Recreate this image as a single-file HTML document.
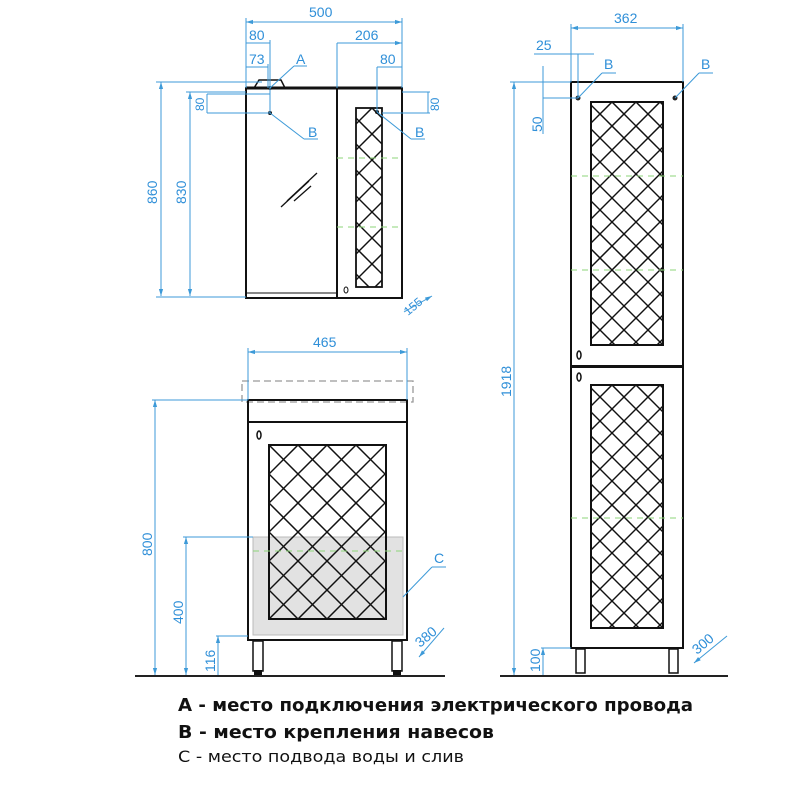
<!DOCTYPE html>
<html><head><meta charset="utf-8"><style>
html,body{margin:0;padding:0;background:#fff;width:800px;height:800px;overflow:hidden}
svg{display:block}
.d{stroke:#3d9ad8;stroke-width:1;fill:none}
.t{fill:#2f8fd8;font-family:"Liberation Sans","DejaVu Sans",sans-serif;font-size:14px}
.k{stroke:#111;stroke-width:2;fill:none}
.g{stroke:#8ed67a;stroke-width:1;stroke-dasharray:6,5}
.lg{font-family:"DejaVu Sans","Liberation Sans",sans-serif;fill:#111}
</style></head><body>
<svg id="s" width="800" height="800" viewBox="0 0 800 800" xmlns="http://www.w3.org/2000/svg">
<defs>
<marker id="a" viewBox="0 0 10 10" refX="10" refY="5" markerWidth="7" markerHeight="7" orient="auto-start-reverse"><path d="M0,2 L10,5 L0,8z" fill="#3d9ad8"/></marker>
<clipPath id="c1"><rect x="356" y="108" width="26" height="179"/></clipPath>
<clipPath id="c2"><rect x="269" y="445" width="117" height="174"/></clipPath>
<clipPath id="c3"><rect x="591" y="102" width="72" height="243"/></clipPath>
<clipPath id="c4"><rect x="591" y="385" width="72" height="243"/></clipPath>
</defs>

<!-- ===== Top mirror cabinet ===== -->
<path d="M254,88 L259,80 L281,80 L285,88" class="k" style="stroke-width:1.5"/>
<rect x="246" y="88" width="156" height="210" class="k"/>
<line x1="246" y1="88" x2="402" y2="88" stroke="#111" stroke-width="3"/>
<line x1="337" y1="88" x2="337" y2="298" class="k"/>
<line x1="246" y1="293" x2="337" y2="293" class="k" style="stroke-width:1"/>
<rect x="356" y="108" width="26" height="179" class="k" style="stroke-width:1.8"/>
<g id="l1" clip-path="url(#c1)" stroke="#111" stroke-width="1.5"></g>
<line x1="337" y1="158" x2="398" y2="158" class="g"/>
<line x1="337" y1="227" x2="398" y2="227" class="g"/>
<line x1="281" y1="207" x2="309" y2="181" stroke="#111" stroke-width="1.3"/>
<line x1="287" y1="201" x2="317" y2="173" stroke="#111" stroke-width="1.3"/>
<line x1="294" y1="201" x2="311" y2="186" stroke="#111" stroke-width="1.3"/>
<ellipse cx="346" cy="290" rx="2" ry="3" fill="none" stroke="#111"/>
<circle cx="270" cy="88" r="2" fill="#111"/><circle cx="270" cy="113" r="2" fill="#111"/><circle cx="377" cy="112" r="2" fill="#111"/>
<!-- dims -->
<line x1="246" y1="22" x2="402" y2="22" class="d" marker-start="url(#a)" marker-end="url(#a)"/>
<text x="309" y="17" class="t">500</text>
<line x1="246" y1="18" x2="246" y2="88" class="d"/><line x1="402" y1="18" x2="402" y2="88" class="d"/>
<line x1="246" y1="43" x2="270" y2="43" class="d"/><text x="249" y="40" class="t">80</text>
<line x1="270" y1="40" x2="270" y2="113" class="d"/>
<line x1="246" y1="67" x2="268" y2="67" class="d"/><text x="249" y="64" class="t">73</text>
<line x1="268" y1="64" x2="268" y2="88" class="d"/>
<line x1="337" y1="43" x2="402" y2="43" class="d" marker-end="url(#a)"/><line x1="337" y1="43" x2="337" y2="88" class="d"/>
<text x="355" y="40" class="t">206</text>
<line x1="377" y1="67" x2="402" y2="67" class="d"/><text x="380" y="64" class="t">80</text>
<line x1="377" y1="67" x2="377" y2="112" class="d"/>
<line x1="270" y1="88" x2="294" y2="66" class="d"/><line x1="294" y1="66" x2="307" y2="66" class="d"/><text x="296" y="64" class="t">A</text>
<line x1="270" y1="113" x2="304" y2="139" class="d"/><line x1="304" y1="139" x2="318" y2="139" class="d"/><text x="308" y="137" class="t">B</text>
<line x1="377" y1="112" x2="411" y2="139" class="d"/><line x1="411" y1="139" x2="425" y2="139" class="d"/><text x="415" y="137" class="t">B</text>
<line x1="161" y1="82" x2="161" y2="296" class="d" marker-start="url(#a)" marker-end="url(#a)"/>
<line x1="156" y1="82" x2="262" y2="82" class="d"/><line x1="156" y1="297" x2="246" y2="297" class="d"/>
<text transform="translate(157,204) rotate(-90)" class="t">860</text>
<line x1="190" y1="92" x2="190" y2="296" class="d" marker-start="url(#a)" marker-end="url(#a)"/>
<line x1="186" y1="92" x2="246" y2="92" class="d"/>
<text transform="translate(186,204) rotate(-90)" class="t">830</text>
<line x1="207" y1="94" x2="270" y2="94" class="d"/><line x1="207" y1="113" x2="270" y2="113" class="d"/>
<line x1="207" y1="94" x2="207" y2="113" class="d"/>
<text transform="translate(204,111) rotate(-90)" class="t" style="font-size:12px">80</text>
<line x1="402" y1="92" x2="430" y2="92" class="d"/><line x1="382" y1="113" x2="430" y2="113" class="d"/>
<line x1="428" y1="92" x2="428" y2="113" class="d"/>
<text transform="translate(439,111) rotate(-90)" class="t" style="font-size:12px">80</text>
<line x1="404" y1="312" x2="432" y2="296" class="d" marker-end="url(#a)"/>
<text transform="translate(408,316) rotate(-40)" class="t" style="font-size:12px">155</text>

<!-- ===== Vanity ===== -->
<rect x="242" y="381" width="171" height="21" fill="none" stroke="#999" stroke-width="1.3" stroke-dasharray="7,4"/>
<rect x="253" y="537" width="150" height="98" fill="#e2e2e2" stroke="#bbb"/>
<rect x="248" y="400" width="159" height="240" class="k"/>
<line x1="248" y1="422" x2="407" y2="422" class="k"/>
<rect x="269" y="445" width="117" height="174" class="k"/>
<g id="l2" clip-path="url(#c2)" stroke="#111" stroke-width="1.5"></g>
<line x1="253" y1="551" x2="407" y2="551" class="g"/>
<ellipse cx="259" cy="435" rx="2" ry="4" fill="none" stroke="#111" stroke-width="1.5"/>
<rect x="253" y="641" width="10" height="30" fill="#fff" stroke="#111" stroke-width="1.5"/>
<rect x="392" y="641" width="10" height="30" fill="#fff" stroke="#111" stroke-width="1.5"/>
<rect x="254" y="670" width="8" height="5" fill="#111"/><rect x="393" y="670" width="8" height="5" fill="#111"/>
<line x1="135" y1="676" x2="445" y2="676" stroke="#222" stroke-width="2"/>
<line x1="248" y1="352" x2="407" y2="352" class="d" marker-start="url(#a)" marker-end="url(#a)"/>
<line x1="248" y1="348" x2="248" y2="400" class="d"/><line x1="407" y1="348" x2="407" y2="400" class="d"/>
<text x="313" y="347" class="t">465</text>
<line x1="155" y1="400" x2="155" y2="675" class="d" marker-start="url(#a)" marker-end="url(#a)"/>
<line x1="152" y1="400" x2="248" y2="400" class="d"/>
<text transform="translate(152,556) rotate(-90)" class="t">800</text>
<line x1="186" y1="537" x2="186" y2="675" class="d" marker-start="url(#a)" marker-end="url(#a)"/>
<line x1="183" y1="537" x2="253" y2="537" class="d"/>
<text transform="translate(183,624) rotate(-90)" class="t">400</text>
<line x1="218" y1="636" x2="218" y2="675" class="d" marker-start="url(#a)"/>
<line x1="216" y1="636" x2="248" y2="636" class="d"/>
<text transform="translate(215,672) rotate(-90)" class="t">116</text>
<line x1="403" y1="597" x2="432" y2="567" class="d"/><line x1="432" y1="567" x2="446" y2="567" class="d"/>
<text x="434" y="563" class="t">C</text>
<line x1="419" y1="657" x2="444" y2="628" class="d" marker-start="url(#a)"/>
<text transform="translate(420,648) rotate(-40)" class="t">380</text>

<!-- ===== Tall column ===== -->
<rect x="571" y="82" width="112" height="284" class="k"/>
<rect x="571" y="367" width="112" height="281" class="k"/>
<rect x="591" y="102" width="72" height="243" class="k"/>
<rect x="591" y="385" width="72" height="243" class="k"/>
<g id="l3" clip-path="url(#c3)" stroke="#111" stroke-width="1.5"></g>
<g id="l4" clip-path="url(#c4)" stroke="#111" stroke-width="1.5"></g>
<line x1="571" y1="176" x2="683" y2="176" class="g"/>
<line x1="571" y1="270" x2="683" y2="270" class="g"/>
<line x1="571" y1="518" x2="683" y2="518" class="g"/>
<ellipse cx="579" cy="355" rx="2" ry="4" fill="none" stroke="#111" stroke-width="1.5"/>
<ellipse cx="579" cy="377" rx="2" ry="4" fill="none" stroke="#111" stroke-width="1.5"/>
<circle cx="578" cy="98" r="2.5" fill="#222"/><circle cx="675" cy="98" r="2.5" fill="#222"/>
<rect x="576" y="649" width="9" height="24" fill="#fff" stroke="#111" stroke-width="1.5"/>
<rect x="669" y="649" width="9" height="24" fill="#fff" stroke="#111" stroke-width="1.5"/>
<line x1="500" y1="676" x2="728" y2="676" stroke="#222" stroke-width="2"/>
<line x1="571" y1="28" x2="683" y2="28" class="d" marker-start="url(#a)" marker-end="url(#a)"/>
<line x1="571" y1="24" x2="571" y2="82" class="d"/><line x1="683" y1="24" x2="683" y2="82" class="d"/>
<text x="614" y="23" class="t">362</text>
<line x1="534" y1="54" x2="594" y2="54" class="d"/><line x1="578" y1="54" x2="578" y2="98" class="d"/>
<text x="536" y="50" class="t">25</text>
<line x1="543" y1="66" x2="543" y2="134" class="d"/><line x1="543" y1="98" x2="578" y2="98" class="d"/>
<text transform="translate(542,132) rotate(-90)" class="t">50</text>
<line x1="514" y1="82" x2="514" y2="675" class="d" marker-start="url(#a)" marker-end="url(#a)"/>
<line x1="510" y1="82" x2="571" y2="82" class="d"/>
<text transform="translate(511,397) rotate(-90)" class="t">1918</text>
<line x1="543" y1="648" x2="543" y2="675" class="d" marker-start="url(#a)"/>
<line x1="541" y1="648" x2="571" y2="648" class="d"/>
<text transform="translate(540,672) rotate(-90)" class="t">100</text>
<line x1="578" y1="98" x2="602" y2="73" class="d"/><line x1="602" y1="73" x2="616" y2="73" class="d"/><text x="604" y="69" class="t">B</text>
<line x1="675" y1="98" x2="699" y2="73" class="d"/><line x1="699" y1="73" x2="713" y2="73" class="d"/><text x="701" y="69" class="t">B</text>
<line x1="694" y1="663" x2="727" y2="636" class="d" marker-start="url(#a)"/>
<text transform="translate(697,655) rotate(-40)" class="t">300</text>

<!-- legend -->
<text x="178" y="711" class="lg" style="font-size:18px;font-weight:bold" textLength="515" lengthAdjust="spacingAndGlyphs">A - место подключения электрического провода</text>
<text x="178" y="738" class="lg" style="font-size:18px;font-weight:bold" textLength="316" lengthAdjust="spacingAndGlyphs">B - место крепления навесов</text>
<text x="178" y="762" class="lg" style="font-size:16px" textLength="286" lengthAdjust="spacingAndGlyphs">C - место подвода воды и слив</text>
</svg>
<script>
function lat(id,x,y,w,h,s,off){var g=document.getElementById(id),o="";
for(var c=-h-s*2;c<w+h+s*2;c+=s){var a=x+c+(off||0);
o+='<line x1="'+a+'" y1="'+y+'" x2="'+(a+h)+'" y2="'+(y+h)+'"/>';
o+='<line x1="'+a+'" y1="'+y+'" x2="'+(a-h)+'" y2="'+(y+h)+'"/>';}
g.innerHTML=o;}
lat("l1",356,108,26,179,26,13);
lat("l2",269,445,117,174,29,0);
lat("l3",591,102,72,243,24,0);
lat("l4",591,385,72,243,24,0);
</script>
</body></html>
